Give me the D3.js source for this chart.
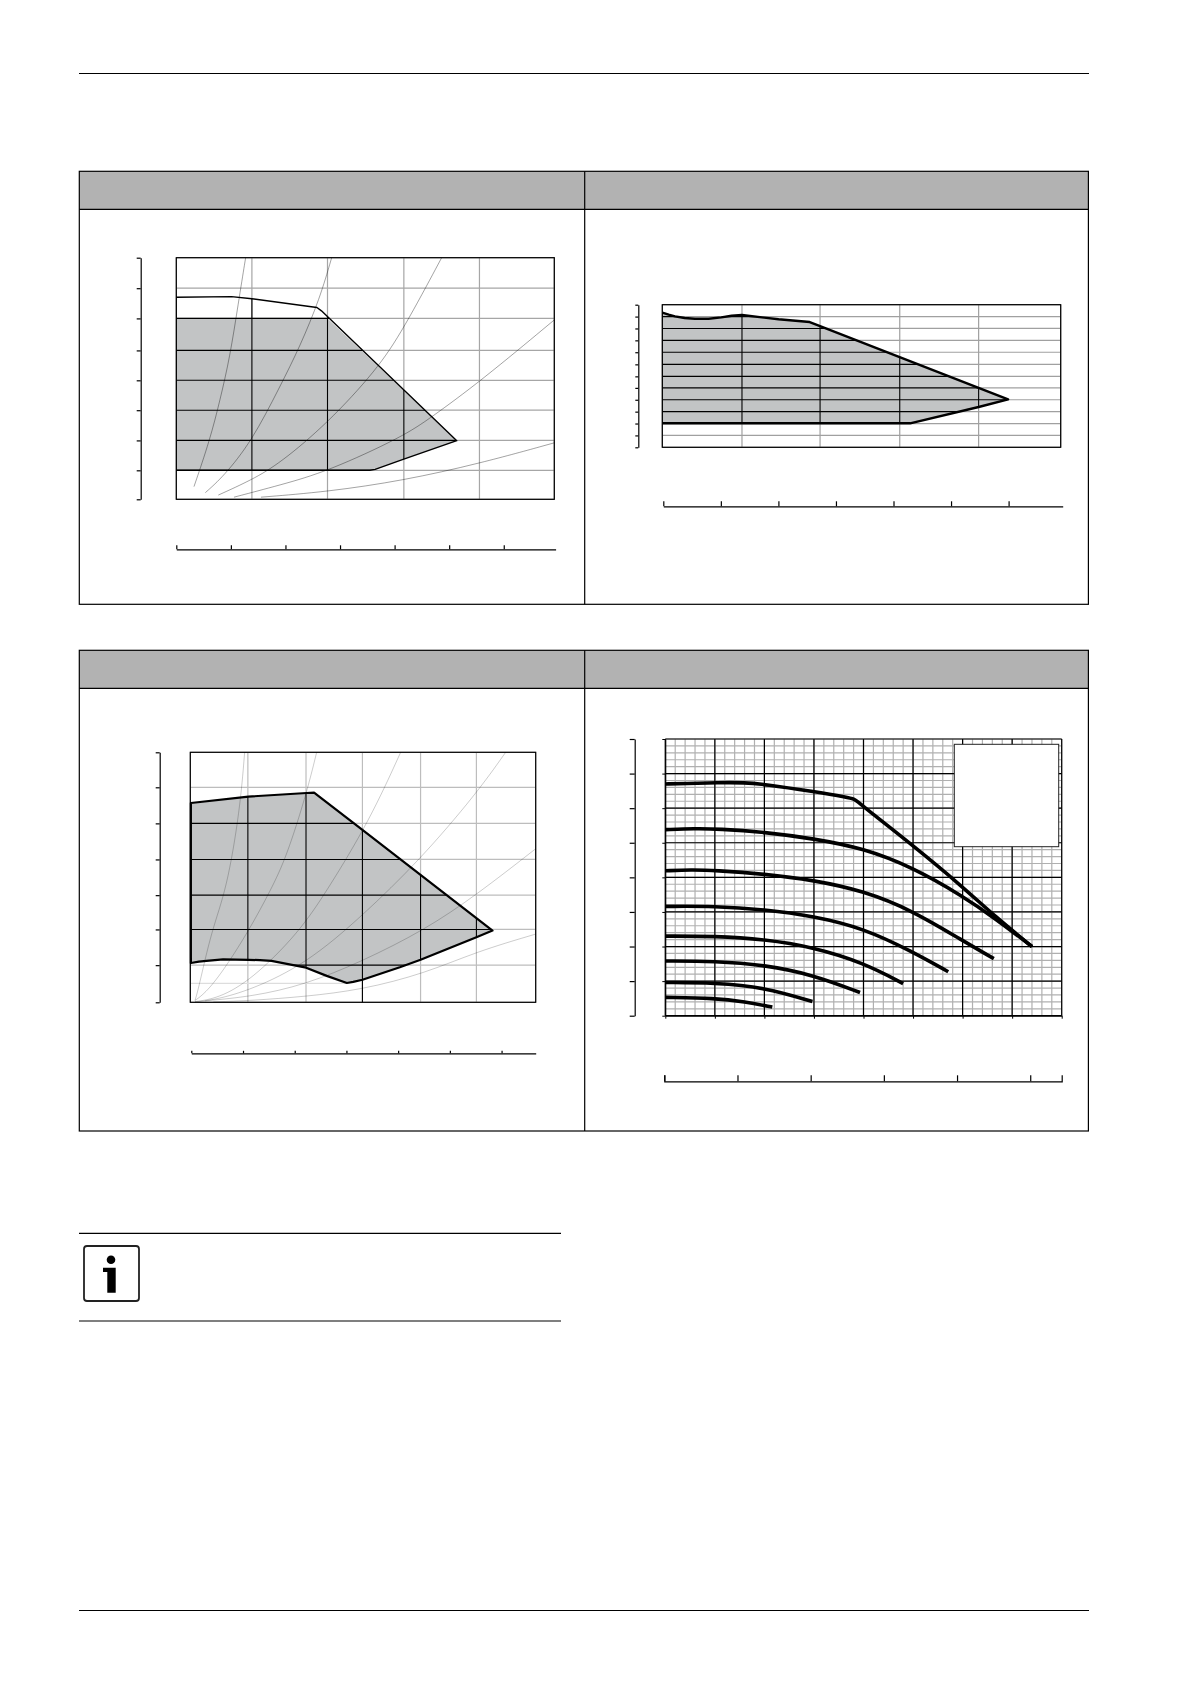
<!DOCTYPE html>
<html>
<head>
<meta charset="utf-8">
<script src="https://cdn.jsdelivr.net/npm/d3@7"></script>
<style>
  body { margin: 0; background: #fff; }
  svg { display: block; }
  .axis path, .axis line { stroke-width: 1.2; }
</style>
</head>
<body>
<div id="chart-area"></div>
<script>
// --- values ---
// chart 1
const c1XTicks = [0, 1, 2, 3.01, 4.01, 5]
const c1YTicks = [0, 0.96, 1.95, 2.95, 3.94, 4.93, 5.99, 6.99, 8]
const c1FlowTicks = [0, 1, 2, 3, 4, 5, 6]
const c1Outline = [[0,6.69],[0.73,6.71],[1,6.64],[1.86,6.35],[1.92,6.24],[3.71,1.94],[3,1.32],[2.63,0.99],[2.56,0.96],[0,0.96]]
const c1Fill = [[0,5.99],[2,5.99],[3.71,1.94],[3,1.32],[2.63,0.99],[2.56,0.96],[0,0.96]]
const c1Curves = [
  [[0.917,8],[0.82,6.49],[0.71,4.72],[0.578,3.28],[0.445,1.97],[0.234,0.42]],
  [[2.055,8],[1.9,6.66],[1.636,5.06],[1.371,3.73],[0.996,1.91],[0.622,0.75],[0.384,0.22]],
  [[3.51,8],[3,5.61],[2.65,4.28],[2,2.52],[1.371,1.19],[0.996,0.64],[0.556,0.14]],
  [[5,5.94],[4.02,3.9],[3.355,2.68],[3,2.08],[2,0.92],[1.371,0.47],[0.763,0.07]],
  [[5,1.87],[4.02,1.19],[3,0.62],[2,0.25],[1.12,0.07]]
]

// chart 2
const c2XTicks = [0, 1, 1.98, 2.98, 3.97, 5]
const c2YTicks = [0, 1, 2, 3, 4, 5, 5.97, 6.98, 8, 9, 10, 11, 12]
const c2FlowTicks = [0, 1, 2, 3, 4, 5, 6]
const c2Outline = [[0,11.33],[0.08,11.16],[0.16,11.02],[0.28,10.88],[0.41,10.82],[0.58,10.82],[0.74,10.93],[0.87,11.07],[1,11.13],[1.46,10.77],[1.85,10.54],[1.98,10.2],[4.34,4.04],[3.97,3.39],[3.11,2.02],[0,2.02]]

// chart 3
const c3XTicks = [0, 1, 2.01, 2.99, 4, 4.97, 6]
const c3YTicks = [0, 1.04, 2.04, 3, 4, 5.01, 6.02, 7]
const c3FlowTicks = [0, 1, 2, 3, 4, 5, 6]
const c3Outline = [[0.01,5.58],[1.01,5.76],[2.02,5.86],[2.15,5.87],[2.99,4.83],[5.25,2.01],[4.97,1.82],[4,1.19],[3.64,0.98],[2.99,0.63],[2.83,0.57],[2.72,0.54],[2.37,0.74],[1.99,0.98],[1.7,1.07],[1.41,1.16],[1.21,1.18],[1.01,1.19],[0.57,1.2],[0.28,1.16],[0.15,1.14],[0.01,1.1]]
const c3FaintLevel = 0.53
const c3Curves = [
  [[0.944,7],[0.863,5.39],[0.631,3.15],[0.371,2.03],[0.139,0.35],[0.081,0.05]],
  [[2.195,7],[2.02,5.85],[1.673,4.08],[1.401,3.15],[1.008,1.98],[0.544,0.81],[0.255,0.25],[0.081,0.05]],
  [[3.654,7],[3.12,5.11],[2.386,3.15],[1.876,1.93],[1.065,0.63],[0.486,0.11],[0.081,0.02]],
  [[5.478,7],[4.974,5.85],[3.99,3.99],[2.976,2.4],[2.02,1.09],[1.065,0.35],[0.428,0.07],[0.081,0.01]],
  [[6,4.3],[4.974,3.01],[4.076,2.03],[2.976,1.14],[1.992,0.49],[1.065,0.16],[0.255,0.04]],
  [[6,1.91],[4.974,1.42],[4.076,0.81],[2.976,0.35],[1.992,0.16],[1.065,0.05],[0.4,0.01]]
]

// chart 4
const c4XTicks = [0, 1, 2, 3, 4, 5, 6, 7, 8]
const c4YTicks = [0, 1, 2, 3, 4, 5, 6, 7, 8]
const c4FlowTicks = [0, 1, 2, 3, 4, 5]
const c4Curves = [
  [[0,6.7],[0.4,6.71],[1.07,6.74],[1.61,6.74],[2,6.69],[2.99,6.48],[3.7,6.31],[3.8,6.27],[3.9,6.17],[4,6.04],[4.99,4.93],[6,3.73],[6.66,2.86],[7.4,2],[7.4,2]],
  [[0,5.38],[0.6,5.41],[1.07,5.4],[2,5.31],[2.99,5.12],[4,4.84],[4.99,4.29],[6,3.46],[6.66,2.81],[7.4,2]],
  [[0,4.19],[0.53,4.22],[1,4.2],[2,4.1],[2.99,3.92],[4,3.61],[4.99,3.04],[6,2.17],[6.63,1.65]],
  [[0,3.16],[1,3.17],[2,3.07],[2.99,2.88],[4,2.53],[4.99,1.85],[5.71,1.27]],
  [[0,2.3],[1,2.3],[2,2.21],[2.99,1.98],[4,1.53],[4.8,0.93]],
  [[0,1.58],[1,1.58],[2,1.47],[2.99,1.18],[3.93,0.67]],
  [[0,0.96],[1,0.95],[2,0.82],[2.97,0.41]],
  [[0,0.53],[1,0.51],[1.61,0.4],[2.16,0.25]]
]

const svg = d3.select("#chart-area")
  .append("svg")
  .attr("width", 1190)
  .attr("height", 1684)

const lineGenerator = d3.line()
const smoothLine = d3.line().curve(d3.curveBasis)

function pageLine(x1, x2, y) {
  svg.append("line")
    .attr("x1", x1).attr("x2", x2).attr("y1", y).attr("y2", y)
    .attr("stroke", "#000").attr("stroke-width", 1.2)
}

function tableFrame(top, headBottom, bottom) {
  const left = 79.3, right = 1088.4, mid = 584.7
  svg.append("rect")
    .attr("x", left).attr("y", top)
    .attr("width", right - left).attr("height", headBottom - top)
    .attr("fill", "#b2b2b2")
  svg.append("rect")
    .attr("x", left).attr("y", top)
    .attr("width", right - left).attr("height", bottom - top)
    .attr("fill", "none").attr("stroke", "#000").attr("stroke-width", 1.2)
  pageLine(left, right, headBottom)
  svg.append("line")
    .attr("x1", mid).attr("x2", mid).attr("y1", top).attr("y2", bottom)
    .attr("stroke", "#000").attr("stroke-width", 1.2)
}

// the two axes that sit outside the plot, without labels
function outerAxes(c, xScale, yScale) {
  const yAxis = svg.append("g")
    .attr("class", "axis")
    .attr("transform", `translate(${c.leftAxisX},0)`)
    .call(d3.axisLeft(yScale).tickValues(c.yTicks).tickSize(c.leftTick).tickSizeOuter(0).tickFormat(""))
  const flowScale = d3.scaleLinear().domain(c.flowDomain).range(c.flowRange)
  const flowAxis = svg.append("g")
    .attr("class", "axis")
    .attr("transform", `translate(0,${c.flowY})`)
    .call(d3.axisTop(flowScale).tickValues(c.flowTicks).tickSize(c.flowTick).tickSizeOuter(c.flowOuter || 0).tickFormat(""))
  yAxis.selectAll("text").remove()
  flowAxis.selectAll("text").remove()
}

function gridLines(g, xs, ys, xScale, yScale, color, width) {
  g.selectAll(null).data(xs).join("line")
    .attr("x1", d => xScale(d)).attr("x2", d => xScale(d))
    .attr("y1", yScale.range()[0]).attr("y2", yScale.range()[1])
    .attr("stroke", color).attr("stroke-width", width)
  g.selectAll(null).data(ys).join("line")
    .attr("x1", xScale.range()[0]).attr("x2", xScale.range()[1])
    .attr("y1", d => yScale(d)).attr("y2", d => yScale(d))
    .attr("stroke", color).attr("stroke-width", width)
}

// shaded working area: grey grid, fill, black grid inside the outline, curves on top
function areaChart(c) {
  const xScale = d3.scaleLinear().domain(c.xDomain).range(c.xRange)
  const yScale = d3.scaleLinear().domain(c.yDomain).range(c.yRange)
  const toPx = pts => pts.map(d => [xScale(d[0]), yScale(d[1])])
  const g = svg.append("g")

  gridLines(g, c.xTicks, c.yTicks, xScale, yScale, c.gridColor, 1.2)
  if (c.faintLevel) {
    g.append("line")
      .attr("x1", xScale.range()[0]).attr("x2", xScale(2.72))
      .attr("y1", yScale(c.faintLevel)).attr("y2", yScale(c.faintLevel))
      .attr("stroke", "#ddd").attr("stroke-width", 1.4)
  }

  g.append("path")
    .attr("d", lineGenerator(toPx(c.fill || c.outline)) + "Z")
    .attr("fill", "#c2c4c5")

  const clipId = "clip-" + c.name
  svg.append("clipPath").attr("id", clipId)
    .append("path").attr("d", lineGenerator(toPx(c.outline)) + "Z")
  const inner = g.append("g").attr("clip-path", `url(#${clipId})`)
  gridLines(inner, c.xTicks, c.yTicks, xScale, yScale, "#000", 1.1)

  if (c.blackTail) {
    g.append("line")
      .attr("x1", xScale(c.blackTail[0])).attr("x2", xScale(c.blackTail[0]))
      .attr("y1", yScale(c.blackTail[1])).attr("y2", yScale(0))
      .attr("stroke", "#000").attr("stroke-width", 1.1)
  }

  g.selectAll(null).data(c.curves || []).join("path")
    .attr("d", d => smoothLine(toPx(d)))
    .attr("fill", "none")
    .attr("stroke", "#000").attr("stroke-opacity", c.curveOpacity).attr("stroke-width", 1)

  g.append("path")
    .attr("d", lineGenerator(toPx(c.outline)) + (c.closeOutline ? "Z" : ""))
    .attr("fill", "none").attr("stroke", "#000")
    .attr("stroke-width", c.outlineWidth).attr("stroke-linejoin", "round")

  g.append("rect")
    .attr("x", c.xRange[0]).attr("y", c.yRange[1])
    .attr("width", c.xRange[1] - c.xRange[0]).attr("height", c.yRange[0] - c.yRange[1])
    .attr("fill", "none").attr("stroke", "#000").attr("stroke-width", 1.2)

  outerAxes(c, xScale, yScale)
}

// --- page ---
pageLine(79, 1089, 73.5)
pageLine(79, 1089, 1610.5)
tableFrame(171.3, 209.3, 604.3)
tableFrame(650.3, 688.3, 1131)

areaChart({
  name: "c1", xDomain: [0, 5], yDomain: [0, 8],
  xRange: [176.3, 554.3], yRange: [499.3, 257.7],
  xTicks: c1XTicks, yTicks: c1YTicks, gridColor: "#a6a6a6",
  outline: c1Outline, fill: c1Fill, curves: c1Curves, curveOpacity: 0.36, outlineWidth: 1.4,
  leftAxisX: 140.7, leftTick: 4,
  flowY: 549.3, flowTick: 4, flowTicks: c1FlowTicks, flowDomain: [0, 6.95], flowRange: [176.3, 555.6]
})

areaChart({
  name: "c2", xDomain: [0, 5], yDomain: [0, 12],
  xRange: [662.3, 1060.7], yRange: [447.3, 304.7],
  xTicks: c2XTicks, yTicks: c2YTicks, gridColor: "#a0a0a0",
  outline: c2Outline, outlineWidth: 2.4,
  leftAxisX: 638.3, leftTick: 3,
  flowY: 506.3, flowTick: 5, flowTicks: c2FlowTicks, flowDomain: [0, 6.94], flowRange: [663.3, 1062.7]
})

areaChart({
  name: "c3", xDomain: [0, 6], yDomain: [0, 7],
  xRange: [190.3, 535.7], yRange: [1002.3, 752.3],
  xTicks: c3XTicks, yTicks: c3YTicks, gridColor: "#bdbdbd",
  outline: c3Outline, curves: c3Curves, curveOpacity: 0.2, outlineWidth: 2.2, closeOutline: true,
  faintLevel: c3FaintLevel, blackTail: [2.99, 0.63],
  leftAxisX: 159.7, leftTick: 4,
  flowY: 1053.3, flowTick: 2.5, flowTicks: c3FlowTicks, flowDomain: [0, 6.66], flowRange: [191.3, 535.7]
})

// chart 4: fine millimetre-style grid with thick pump curves
{
  const c = {
    xRange: [665.3, 1061.7], yRange: [1015.7, 739],
    yTicks: c4YTicks, leftAxisX: 634.7, leftTick: 5,
    flowY: 1081.3, flowTick: 6, flowOuter: 6, flowTicks: c4FlowTicks,
    flowDomain: [0, 5.43], flowRange: [664.3, 1061.7]
  }
  const xScale = d3.scaleLinear().domain([0, 8]).range(c.xRange)
  const yScale = d3.scaleLinear().domain([0, 8]).range(c.yRange)
  const g = svg.append("g")

  gridLines(g, xScale.ticks(40), yScale.ticks(40), xScale, yScale, "#b0b0b0", 1.2)
  gridLines(g, c4XTicks, c4YTicks, xScale, yScale, "#000", 1.2)

  const xAxis = g.append("g")
    .attr("transform", `translate(0,${c.yRange[0]})`)
    .call(d3.axisBottom(xScale).tickValues(c4XTicks).tickSize(3).tickSizeOuter(0).tickFormat(""))
  const yAxis = g.append("g")
    .attr("transform", `translate(${c.xRange[0]},0)`)
    .call(d3.axisLeft(yScale).tickValues(c4YTicks).tickSize(3).tickSizeOuter(0).tickFormat(""))
  xAxis.selectAll("text").remove()
  yAxis.selectAll("text").remove()

  g.append("rect")
    .attr("x", 954.3).attr("y", 744.3).attr("width", 104.4).attr("height", 102.4)
    .attr("fill", "#fff").attr("stroke", "#222").attr("stroke-width", 1)

  const pumpLine = d3.line()
    .x(d => xScale(d[0])).y(d => yScale(d[1]))
    .curve(d3.curveBasis)
  g.selectAll(null).data(c4Curves).join("path")
    .attr("d", pumpLine)
    .attr("fill", "none").attr("stroke", "#000").attr("stroke-width", 3.6)

  outerAxes(c, xScale, yScale)
}

// note block with the info icon
pageLine(79, 561, 1233.4)
pageLine(79, 561, 1321)
const icon = svg.append("g")
icon.append("rect")
  .attr("x", 84).attr("y", 1246).attr("width", 55).attr("height", 55).attr("rx", 3)
  .attr("fill", "#fff").attr("stroke", "#222").attr("stroke-width", 1.8)
icon.append("circle").attr("cx", 111).attr("cy", 1259.7).attr("r", 4.3).attr("fill", "#000")
icon.append("path")
  .attr("d", "M103 1267.7H115.7V1292.7H107.3V1272H103Z")
  .attr("fill", "#000")
</script>
</body>
</html>
